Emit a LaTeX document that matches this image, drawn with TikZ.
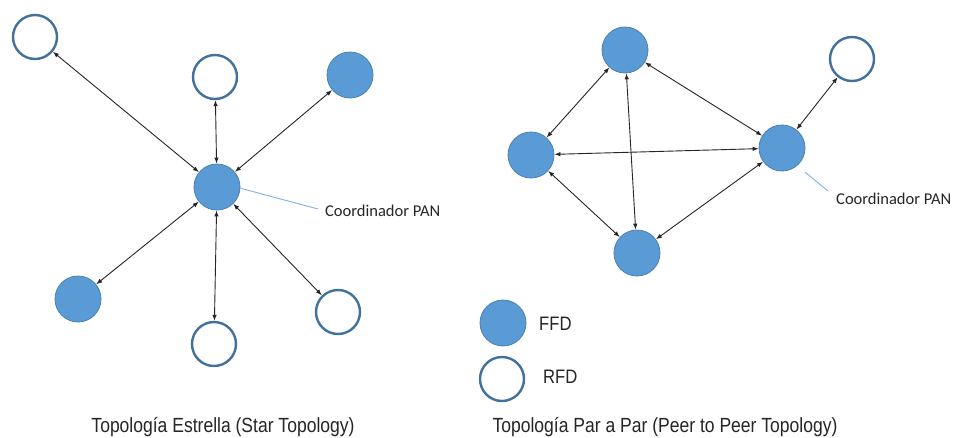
\documentclass[tikz,border=0pt]{standalone}
\usepackage{fontspec}
\setmainfont{Liberation Sans}
\newfontfamily\narrowfont[FakeStretch=0.855]{Liberation Sans}
\newfontfamily\calfont{Carlito}
\usetikzlibrary{arrows.meta}
\definecolor{ffdfill}{HTML}{5B9BD5}
\definecolor{ffdedge}{HTML}{4A80B4}
\definecolor{rfdedge}{HTML}{41719C}
\definecolor{callout}{HTML}{7FB2E5}
\begin{document}
\begin{tikzpicture}[x=1pt,y=-1pt,
  ffd/.style={circle,fill=ffdfill,draw=ffdedge,line width=0.8pt,minimum size=46pt,inner sep=0pt},
  rfd/.style={circle,fill=white,draw=rfdedge,line width=2.4pt,minimum size=44pt,inner sep=0pt},
  link/.style={{Latex[length=6pt,width=4.5pt]}-{Latex[length=6pt,width=4.5pt]},line width=0.9pt,black!85},
  coordline/.style={draw=callout,line width=0.9pt},
  coordlabel/.style={font=\calfont\fontsize{16.5}{18}\selectfont,anchor=base west,inner sep=0pt,text=black!85},
  legendlabel/.style={font=\narrowfont\fontsize{19.5}{22}\selectfont,anchor=base west,inner sep=0pt,text=black!85},
  caption/.style={font=\narrowfont\fontsize{20.5}{24}\selectfont,anchor=base,inner sep=0pt,text=black!85}
]
\useasboundingbox (0,0) rectangle (954,437);
\fill[white] (0,0) rectangle (954,437);

% Star topology
\node[ffd] (c) at (217,187) {};
\node[rfd] (s1) at (35,37) {};
\node[rfd] (s2) at (215,77) {};
\node[ffd] (s3) at (350,75) {};
\node[ffd] (s4) at (78,299) {};
\node[rfd] (s5) at (214,344) {};
\node[rfd] (s6) at (338,312) {};
\foreach \n in {s1,s2,s3,s4,s5,s6} \draw[link] (c) -- (\n);
\coordinate (cl1) at (318,209);
\draw[coordline] (c.-3) -- (cl1);
\node[coordlabel] (lab1) at (325,216) {Coordinador PAN};
\node[caption] (cap1) at (223,432) {Topología Estrella (Star Topology)};

% Peer to peer topology
\node[ffd] (pt) at (625,50) {};
\node[ffd] (pl) at (531,155) {};
\node[ffd] (pr) at (782,148) {};
\node[ffd] (pb) at (637,253) {};
\node[rfd] (pq) at (852,59) {};
\draw[link] (pt) -- (pl);
\draw[link] (pt) -- (pb);
\draw[link] (pt) -- (pr);
\draw[link] (pl) -- (pr);
\draw[link] (pl) -- (pb);
\draw[link] (pb) -- (pr);
\draw[link] (pr) -- (pq);
\coordinate (cp1) at (805,172);
\coordinate (cp2) at (828,191);
\draw[coordline] (cp1) -- (cp2);
\node[coordlabel] (lab2) at (836,204) {Coordinador PAN};

% Legend
\node[ffd] (lf) at (503,323) {};
\node[legendlabel] (lft) at (539,330) {FFD};
\node[rfd] (lr) at (502,379) {};
\node[legendlabel] (lrt) at (543,383) {RFD};
\node[caption] (cap2) at (665,432) {Topología Par a Par (Peer to Peer Topology)};
\end{tikzpicture}
\end{document}
